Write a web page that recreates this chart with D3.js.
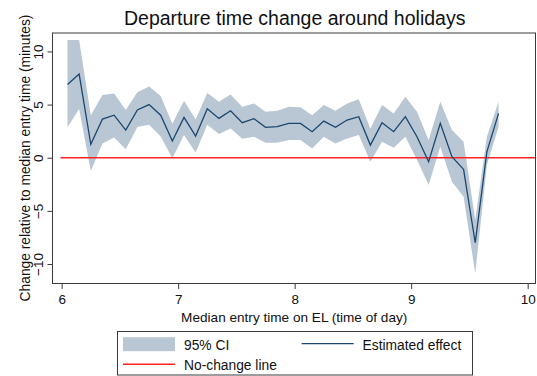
<!DOCTYPE html>
<html><head><meta charset="utf-8">
<script src="https://cdn.jsdelivr.net/npm/d3@7"></script>
<style>
html,body{margin:0;padding:0;background:#fff;}
text{font-family:"Liberation Sans",Arial,Helvetica,sans-serif;fill:#111;}
</style></head>
<body>
<svg id="chart" width="537" height="376"></svg>
<script>
const hours = [6.05,6.15,6.25,6.35,6.45,6.55,6.65,6.75,6.85,6.95,
  7.05,7.15,7.25,7.35,7.45,7.55,7.65,7.75,7.85,7.95,
  8.05,8.15,8.25,8.35,8.45,8.55,8.65,8.75,8.85,8.95,
  9.05,9.15,9.25,9.35,9.45,9.55,9.65,9.75];
const estimate = [6.9,7.87,1.26,3.64,4.0,2.6,4.5,5.0,4.0,1.57,
  3.8,2.04,4.6,3.7,4.42,3.3,3.67,2.86,2.92,3.23,
  3.23,2.45,3.45,2.86,3.55,3.86,1.19,3.3,2.45,3.86,
  1.98,-0.38,3.23,0.1,-1.1,-8.0,0.56,4.17];
const ciHigh = [11.07,11.07,4.0,5.9,6.05,4.5,6.15,6.7,5.8,3.2,
  5.36,3.6,6.1,5.27,5.96,4.8,5.1,4.33,4.42,4.8,
  4.74,4.0,4.96,4.42,5.1,5.5,2.76,4.96,4.17,5.74,
  4.33,1.67,5.27,2.6,1.5,-5.86,1.98,5.27];
const ciLow = [2.9,4.58,-1.25,1.35,1.9,0.8,2.9,3.1,2.0,-0.05,
  2.14,0.5,3.1,2.23,2.76,1.79,1.98,1.41,1.41,1.67,
  1.67,0.88,1.98,1.35,1.82,2.14,-0.38,1.5,0.95,1.98,
  -0.2,-2.57,1.04,-2.26,-3.67,-10.9,-0.69,2.9];
const xTicks = [6,7,8,9,10];
const yTicks = [-10,-5,0,5,10];
const noChangeX = [5.99,10.069];
const titleText = "Departure time change around holidays";
const xTitle = "Median entry time on EL (time of day)";
const yTitle = "Change relative to median entry time (minutes)";
const legendItems = ["95% CI","Estimated effect","No-change line"];

const svg = d3.select("#chart");
const plot = {l:52.5, r:535.5, t:33, b:283.5};
const x = d3.scaleLinear().domain([5.923,10.069]).range([52.7,535.7]);
const y = d3.scaleLinear().domain([-11.88,11.83]).range([284,32]);

const CI_FILL = "#b9c6d3", LINE = "#1a476f", RED = "#ff2222", FRAME="#3a3a3a";

const data = hours.map((h,i)=>({h, e:estimate[i], lo:ciLow[i], hi:ciHigh[i]}));

svg.append("path").datum(data)
  .attr("d", d3.area().x(d=>x(d.h)).y0(d=>y(d.lo)).y1(d=>y(d.hi)))
  .attr("fill", CI_FILL);

svg.append("line")
  .attr("x1", x(noChangeX[0])).attr("x2", x(noChangeX[1]))
  .attr("y1", y(0)).attr("y2", y(0))
  .attr("stroke", RED).attr("stroke-width", 1.4);

svg.append("path").datum(data)
  .attr("d", d3.line().x(d=>x(d.h)).y(d=>y(d.e)))
  .attr("fill","none").attr("stroke", LINE).attr("stroke-width", 1.3)
  .attr("stroke-linejoin","miter");

svg.append("rect").attr("x",plot.l).attr("y",plot.t)
  .attr("width",plot.r-plot.l).attr("height",plot.b-plot.t)
  .attr("fill","none").attr("stroke",FRAME).attr("stroke-width",1);

const xAxis = d3.axisBottom(x).tickValues(xTicks).tickSize(5).tickPadding(3).tickFormat(d3.format("d"));
const gx = svg.append("g").attr("transform",`translate(0,${plot.b+0.5})`).call(xAxis);
gx.select(".domain").remove();
gx.selectAll(".tick line").attr("stroke",FRAME);
gx.selectAll(".tick text").attr("font-size",13.5).attr("fill","#111")
  .attr("font-family",'"Liberation Sans",Arial,sans-serif')
  .attr("dy",null).attr("y",19.5);

const yAxis = d3.axisLeft(y).tickValues(yTicks).tickSize(5).tickFormat(d3.format("d"));
const gy = svg.append("g").attr("transform",`translate(${plot.l},0)`).call(yAxis);
gy.select(".domain").remove();
gy.selectAll(".tick line").attr("stroke",FRAME);
gy.selectAll(".tick text").attr("font-size",13.5).attr("fill","#111")
  .attr("font-family",'"Liberation Sans",Arial,sans-serif')
  .attr("x",null).attr("dy",null).attr("text-anchor","middle")
  .attr("transform","translate(-9.5,0) rotate(-90)");

svg.append("text").attr("x",294.7).attr("y",24.7).attr("text-anchor","middle")
  .attr("font-size",19.5).text(titleText);
svg.append("text").attr("x",294.2).attr("y",321.5).attr("text-anchor","middle")
  .attr("font-size",13.6).text(xTitle);
svg.append("text").attr("transform","translate(29.5,158) rotate(-90)")
  .attr("text-anchor","middle").attr("font-size",13.8).text(yTitle);

const lg = svg.append("g");
lg.append("rect").attr("x",117.5).attr("y",331.5).attr("width",355).attr("height",43.5)
  .attr("fill","#fff").attr("stroke",FRAME).attr("stroke-width",1);
lg.append("rect").attr("x",123).attr("y",337.2).attr("width",52).attr("height",14).attr("fill",CI_FILL);
lg.append("text").attr("x",184).attr("y",349.6).attr("font-size",13.8).text(legendItems[0]);
lg.append("line").attr("x1",301.6).attr("x2",353.7).attr("y1",343.7).attr("y2",343.7)
  .attr("stroke",LINE).attr("stroke-width",1.3);
lg.append("text").attr("x",362.6).attr("y",349.6).attr("font-size",13.8).text(legendItems[1]);
lg.append("line").attr("x1",123).attr("x2",175).attr("y1",364.3).attr("y2",364.3)
  .attr("stroke",RED).attr("stroke-width",1.4);
lg.append("text").attr("x",184).attr("y",369.5).attr("font-size",13.8).text(legendItems[2]);
</script>
</body></html>
